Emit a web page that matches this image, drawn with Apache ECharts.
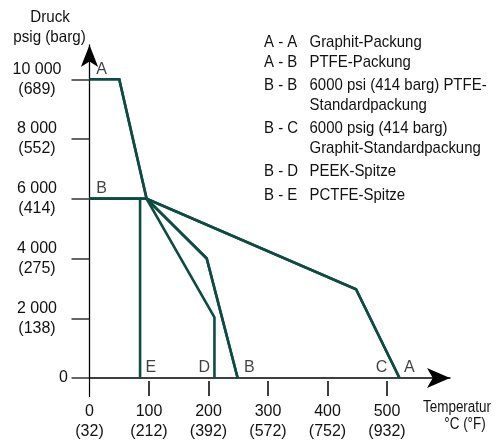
<!DOCTYPE html>
<html>
<head>
<meta charset="utf-8">
<script src="https://cdn.jsdelivr.net/npm/echarts@6/dist/echarts.min.js"></script>
<style>html,body{margin:0;padding:0;background:#fff}#c{width:496px;height:443px}</style>
</head>
<body>
<div id="c"></div>
<script>
// Data
var xTickValues = [0, 100, 200, 300, 400, 500];
var xTickLabels = ['0\n(32)', '100\n(212)', '200\n(392)', '300\n(572)', '400\n(752)', '500\n(932)'];
var yTickValues = [0, 2000, 4000, 6000, 8000, 10000];
var yTickLabels = ['{z|0}', '2 000\n(138)', '4 000\n(275)', '6 000\n(414)', '8 000\n(552)', '10 000\n(689)'];

var lineAA = [[0, 10000], [50, 10000], [96, 6000], [448, 2970], [521, 0]];
var lineAB = [[0, 10000], [50, 10000], [96, 6000], [197, 4000], [249, 0]];
var lineBB = [[0, 6000], [96, 6000], [197, 4000], [249, 0]];
var lineBC = [[0, 6000], [96, 6000], [448, 2970], [521, 0]];
var lineBD = [[0, 6000], [96, 6000], [210, 2030], [210, 0]];
var lineBE = [[0, 6000], [85, 6000], [85, 0]];

var pointLabels = [[20.5, 10320, 'A'], [20.5, 6350, 'B'], [103, 360, 'E'], [193, 360, 'D'], [268.5, 360, 'B'], [491, 360, 'C'], [537.5, 360, 'A']];

var legendCodes = ['A - A', 'A - B', 'B - B', '', 'B - C', '', 'B - D', 'B - E'];
var legendTexts = ['Graphit-Packung', 'PTFE-Packung', '6000 psi (414 barg) PTFE-', 'Standardpackung', '6000 psig (414 barg)', 'Graphit-Standardpackung', 'PEEK-Spitze', 'PCTFE-Spitze'];
var legendRowsY = [42.7, 62.7, 85, 105, 128, 148, 171.7, 195];

var FONT = '"Liberation Sans", Arial, sans-serif';
var LINE_COLOR = '#0e4c43';

var chart = echarts.init(document.getElementById('c'));

function mkLine(name, data) {
  return {
    type: 'line', name: name, data: data, symbol: 'none', silent: true,
    lineStyle: { color: LINE_COLOR, width: 2.6, join: 'miter' }, z: 3
  };
}

function txt(x, y, s, size, sx, align) {
  return {
    type: 'text', x: x, y: y, scaleX: sx, scaleY: 1,
    style: { text: s, font: size + 'px ' + FONT, fill: '#111', align: align || 'left', verticalAlign: 'middle' }
  };
}

var graphics = [];
legendRowsY.forEach(function (y, i) {
  if (legendCodes[i]) graphics.push(txt(264, y, legendCodes[i], 17, 0.88));
  graphics.push(txt(309.5, y, legendTexts[i], 17, 0.88));
});
graphics.push(txt(50, 17, 'Druck', 16.5, 0.92, 'center'));
graphics.push(txt(49.5, 37, 'psig (barg)', 16.5, 0.92, 'center'));
graphics.push(txt(457, 408, 'Temperatur', 16, 0.84, 'center'));
graphics.push(txt(465, 424.5, '°C (°F)', 16, 0.84, 'center'));

chart.setOption({
  animation: false,
  grid: { left: 89.5, right: 46, top: 45, bottom: 65 },
  xAxis: [{
    type: 'value', min: 0, max: 605.9,
    splitLine: { show: false },
    axisLine: { show: true, lineStyle: { color: '#000', width: 1.5 }, symbol: ['none', 'arrow'], symbolSize: [15, 23] },
    axisTick: { show: true, length: 19, customValues: [xTickValues[0]], lineStyle: { color: '#000', width: 1.2 } },
    axisLabel: { show: false }
  }, {
    type: 'value', min: 0, max: 605.9, position: 'bottom', offset: 3,
    splitLine: { show: false },
    axisLine: { show: false },
    axisTick: { show: true, length: 15, customValues: xTickValues.slice(1), lineStyle: { color: '#000', width: 1.5 } },
    axisLabel: {
      customValues: xTickValues, margin: 20.7, lineHeight: 20,
      fontFamily: FONT, fontSize: 16, color: '#111', align: 'center', verticalAlign: 'top',
      formatter: function (v) { return xTickLabels[xTickValues.indexOf(v)]; }
    }
  }],
  yAxis: {
    type: 'value', min: 0, max: 11148,
    splitLine: { show: false },
    axisLine: { show: true, lineStyle: { color: '#000', width: 1.3 }, symbol: ['none', 'arrow'], symbolSize: [13, 22] },
    axisTick: { show: true, length: 18, customValues: yTickValues, lineStyle: { color: '#333', width: 1.5 } },
    axisLabel: {
      customValues: yTickValues, margin: 52.5, lineHeight: 20,
      fontFamily: FONT, fontSize: 16, color: '#111', align: 'center', verticalAlign: 'middle',
      formatter: function (v) { return yTickLabels[yTickValues.indexOf(v)]; },
      rich: { z: { fontFamily: FONT, fontSize: 16, color: '#111', padding: [0, 0, 0, 53] } }
    }
  },
  series: [
    mkLine('A - A', lineAA),
    mkLine('A - B', lineAB),
    mkLine('B - B', lineBB),
    mkLine('B - C', lineBC),
    mkLine('B - D', lineBD),
    mkLine('B - E', lineBE),
    {
      type: 'scatter', data: pointLabels, symbolSize: 0, silent: true, z: 4,
      label: {
        show: true, position: 'inside', fontFamily: FONT, fontSize: 16, color: '#111',
        formatter: function (p) { return p.data[2]; }
      }
    }
  ],
  graphic: graphics
});
</script>
</body>
</html>
